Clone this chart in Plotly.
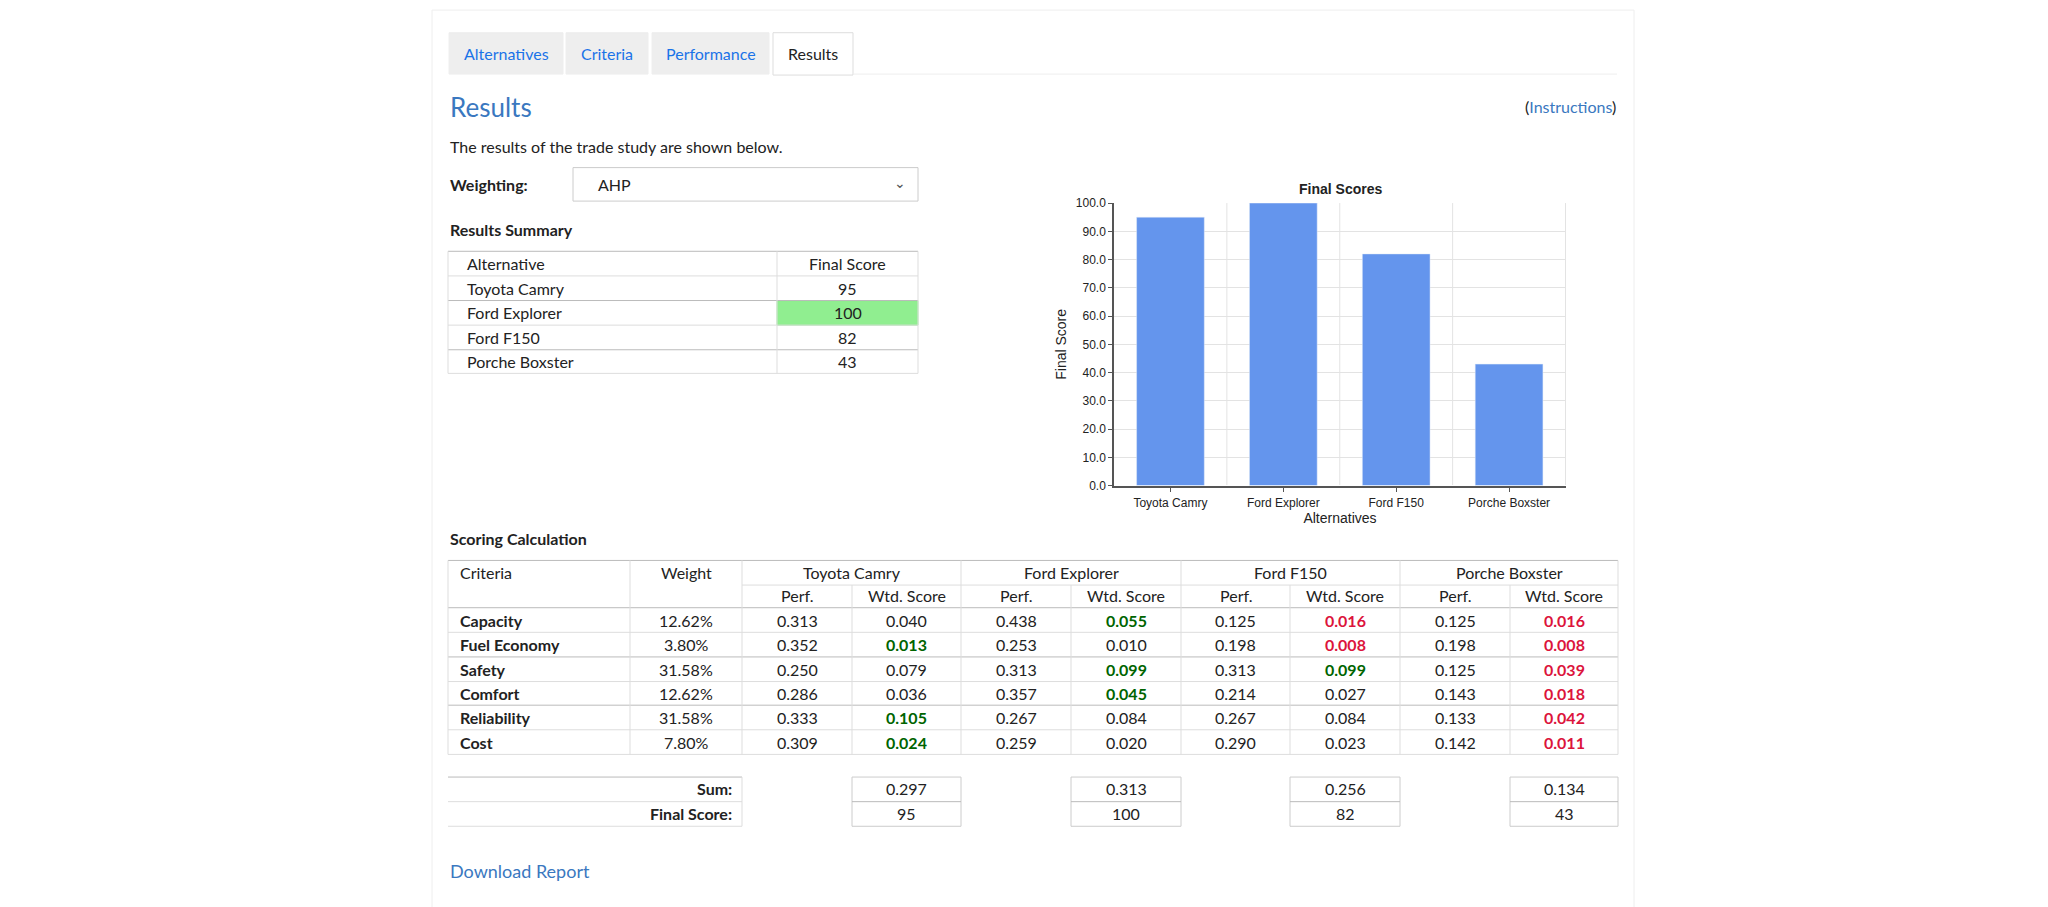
import plotly.graph_objs as go

# page data
alternatives = ['Toyota Camry', 'Ford Explorer', 'Ford F150', 'Porche Boxster']
final_scores = [95, 100, 82, 43]
criteria = ['Capacity', 'Fuel Economy', 'Safety', 'Comfort', 'Reliability', 'Cost']
weights = ['12.62%', '3.80%', '31.58%', '12.62%', '31.58%', '7.80%']
perf = [[0.313, 0.438, 0.125, 0.125],
        [0.352, 0.253, 0.198, 0.198],
        [0.250, 0.313, 0.313, 0.125],
        [0.286, 0.357, 0.214, 0.143],
        [0.333, 0.267, 0.267, 0.133],
        [0.309, 0.259, 0.290, 0.142]]
wtd = [[0.040, 0.055, 0.016, 0.016],
       [0.013, 0.010, 0.008, 0.008],
       [0.079, 0.099, 0.099, 0.039],
       [0.036, 0.045, 0.027, 0.018],
       [0.105, 0.084, 0.084, 0.042],
       [0.024, 0.020, 0.023, 0.011]]
sums = [0.297, 0.313, 0.256, 0.134]
tabs = ['Alternatives', 'Criteria', 'Performance', 'Results']

W, H = 2048, 907
FONT = 'Lato'
BLUE = '#3a78c0'
shapes = []
annots = []

def px(x): return x/W
def py(y): return 1 - y/H

def rect(x0, y0, x1, y1, fill='rgba(0,0,0,0)', line='#dddddd', lw=1):
    shapes.append(dict(type='rect', xref='paper', yref='paper', x0=px(x0), x1=px(x1),
                       y0=py(y1), y1=py(y0), fillcolor=fill, line=dict(color=line, width=lw),
                       layer='below'))

def hline(x0, x1, y, color='#dddddd', lw=1):
    shapes.append(dict(type='line', xref='paper', yref='paper', x0=px(x0), x1=px(x1),
                       y0=py(y), y1=py(y), line=dict(color=color, width=lw)))

def vline(x, y0, y1, color='#dddddd', lw=1):
    shapes.append(dict(type='line', xref='paper', yref='paper', x0=px(x), x1=px(x),
                       y0=py(y0), y1=py(y1), line=dict(color=color, width=lw)))

def text(x, y, s, size=16, color='#222222', anchor='left', bold=False, family=FONT):
    if bold:
        s = '<b>' + s + '</b>'
    annots.append(dict(xref='paper', yref='paper', x=px(x), y=py(y), text=s, showarrow=False,
                       xanchor=anchor, yanchor='middle', font=dict(family=family, size=size, color=color)))

# card
rect(424, -5, 1626, 920, line='#eeeeee')

# tabs
tab_x = [(441, 555), (558, 640), (644, 761), (765, 845)]
for (a, b), t in zip(tab_x, tabs):
    active = t == 'Results'
    rect(a, 18, b, 61 if active else 60, fill='white' if active else '#eeeeee',
         line='#dddddd' if active else '#eeeeee')
    text((a+b)/2, 39, t, size=16, color='#222222' if active else '#1a73e8', anchor='center')
hline(845, 1609, 60, color='#eeeeee')

text(440, 93, 'Results', size=26, color=BLUE)
text(1610, 93, '(<span style="color:%s">Instructions</span>)' % BLUE, size=16, anchor='right')
text(440, 134, 'The results of the trade study are shown below.', size=16)
text(440, 172, 'Weighting:', size=16, bold=True)
rect(565, 155, 910, 189, fill='white', line='#cccccc')
text(588, 172, 'AHP', size=16)
text(900, 170, '⌄', size=14, anchor='right', color='#555555')
text(440, 218, 'Results Summary', size=16, bold=True)

# summary table
sx = [440, 769, 910]
sy = [240, 265, 290, 315, 340, 364]
for i, s in enumerate(final_scores):
    if s == max(final_scores):
        rect(sx[1], sy[i+1], sx[2], sy[i+2], fill='#90ee90', line='#90ee90')
for y in sy:
    hline(sx[0], sx[2], y, color='#bbbbbb' if y in (240, 290, 340) else '#dddddd')
for x in sx:
    vline(x, sy[0], sy[-1])
text(457, (sy[0]+sy[1])/2, 'Alternative')
text((sx[1]+sx[2])/2, (sy[0]+sy[1])/2, 'Final Score', anchor='center')
for i, (a, s) in enumerate(zip(alternatives, final_scores)):
    yc = (sy[i+1]+sy[i+2])/2
    text(457, yc, a)
    text((sx[1]+sx[2])/2, yc, str(s), anchor='center')

# scoring calculation table
text(440, 532, 'Scoring Calculation', size=16, bold=True)
cx = [440, 622, 734, 844, 953, 1063, 1173, 1282, 1392, 1502, 1610]
ry = [554, 579, 602, 627, 652, 677, 701, 726, 751]
hline(cx[0], cx[-1], ry[0], color='#bbbbbb')
hline(cx[2], cx[-1], ry[1])
for j, y in enumerate(ry[2:]):
    hline(cx[0], cx[-1], y, color='#bbbbbb' if j in (0, 2, 4) else '#dddddd')
for k, x in enumerate(cx):
    top = ry[0] if k in (0, 1, 2, 4, 6, 8, 10) else ry[1]
    vline(x, top, ry[-1])
text(450, 566, 'Criteria')
text((cx[1]+cx[2])/2, 566, 'Weight', anchor='center')
for i, a in enumerate(alternatives):
    text((cx[2+2*i]+cx[4+2*i])/2, 566, a, anchor='center')
    text((cx[2+2*i]+cx[3+2*i])/2, 590, 'Perf.', anchor='center')
    text((cx[3+2*i]+cx[4+2*i])/2, 590, 'Wtd. Score', anchor='center')
for r, c in enumerate(criteria):
    yc = (ry[2+r]+ry[3+r])/2
    text(450, yc, c, bold=True)
    text((cx[1]+cx[2])/2, yc, weights[r], anchor='center')
    hi, lo = max(wtd[r]), min(wtd[r])
    for i in range(4):
        text((cx[2+2*i]+cx[3+2*i])/2, yc, '%.3f' % perf[r][i], anchor='center')
        v = wtd[r][i]
        col, b = '#222222', False
        if v == hi:
            col, b = '#006400', True
        elif v == lo:
            col, b = '#dc143c', True
        text((cx[3+2*i]+cx[4+2*i])/2, yc, '%.3f' % v, anchor='center', color=col, bold=b)

# sum / final score rows
fy = [774, 799, 824]
for y in fy:
    hline(cx[0], cx[2], y, color='#bbbbbb' if y == 774 else '#dddddd')
vline(cx[2], fy[0], fy[2])
text(cx[2]-8, 786, 'Sum:', anchor='right', bold=True)
text(cx[2]-8, 811, 'Final Score:', anchor='right', bold=True)
for i in range(4):
    a, b = cx[3+2*i], cx[4+2*i]
    rect(a, fy[0], b, fy[2], fill='white', line='#cccccc')
    hline(a, b, fy[1], color='#bbbbbb')
    text((a+b)/2, 786, '%.3f' % sums[i], anchor='center')
    text((a+b)/2, 811, str(final_scores[i]), anchor='center')

text(440, 869, 'Download Report', size=18, color=BLUE)

# bar chart
fig = go.Figure(go.Bar(x=alternatives, y=final_scores, marker=dict(color='#6495ed'), width=0.6))
annots.append(dict(xref='paper', yref='paper', x=px(1332), y=py(167), text='<b>Final Scores</b>',
                   showarrow=False, font=dict(family='Arial', size=14, color='#222222')))
fig.update_layout(
    width=W, height=H,
    margin=dict(l=0, r=0, t=0, b=0),
    plot_bgcolor='white', paper_bgcolor='white',
    showlegend=False,
    shapes=shapes, annotations=annots,
    font=dict(family='Arial', size=12, color='#222222'),
    xaxis=dict(domain=[px(1106), px(1558)], showline=True, linecolor='#555555', linewidth=1.5,
               ticks='outside', ticklen=5, tickcolor='#555555', showgrid=False,
               title=dict(text='Alternatives', font=dict(size=14), standoff=4),
               tickfont=dict(size=12)),
    yaxis=dict(domain=[py(478), py(191)], range=[0, 100], dtick=10, tickformat='.1f',
               showline=True, linecolor='#555555', linewidth=1.5, ticks='outside', ticklen=4,
               tickcolor='#555555', gridcolor='#e3e3e3',
               title=dict(text='Final Score', font=dict(size=14), standoff=6),
               tickfont=dict(size=12)),
)
# vertical grid at category boundaries
for k in range(1, 4):
    fig.add_vline(x=k-0.5, line=dict(color='#e3e3e3', width=1), layer='below')
fig.add_vline(x=3.5, line=dict(color='#e3e3e3', width=1), layer='below')

fig.write_html("out.html")
